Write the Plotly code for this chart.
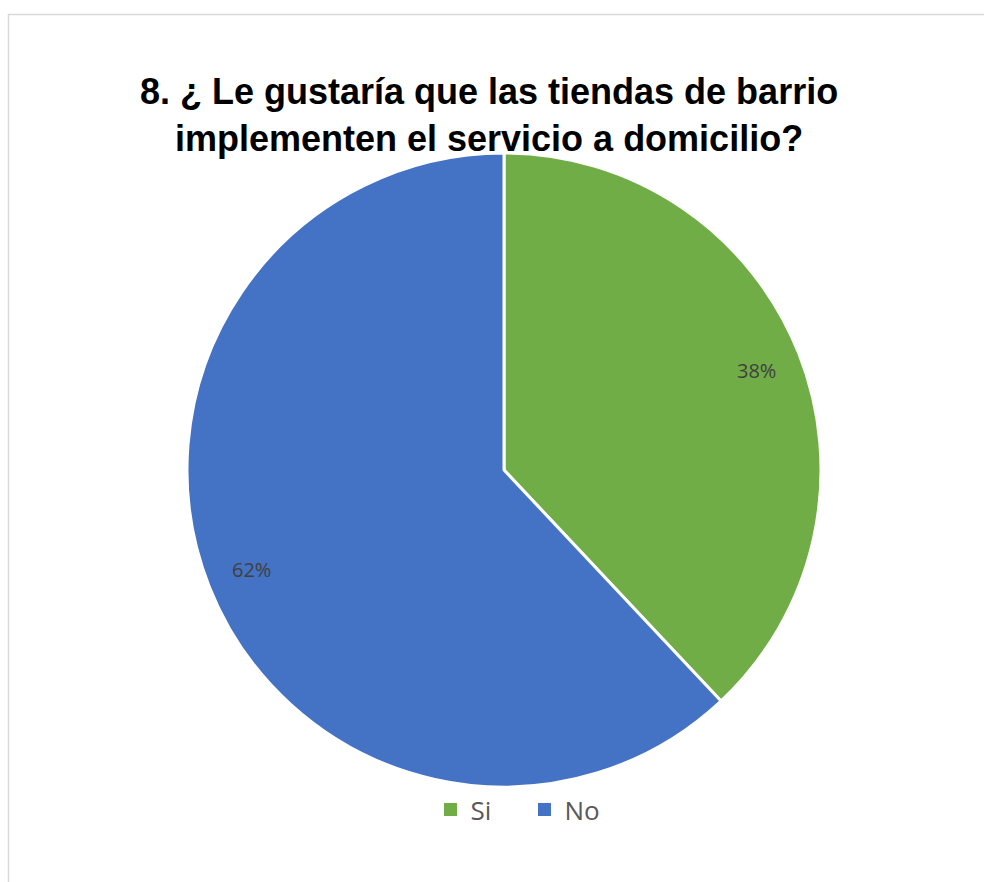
import math
import plotly.graph_objects as go

labels = ["Si", "No"]
values = [38, 62]
colors = ["#70AD47", "#4472C4"]
title_text = "8. ¿ Le gustaría que las tiendas de barrio<br>implementen el servicio a domicilio?"

W, H = 984, 882
cx, cy, r = 504, 470, 317
label_frac = 0.855

fig = go.Figure(go.Pie(
    labels=labels, values=values, sort=False, direction="clockwise", rotation=0,
    marker=dict(colors=colors, line=dict(color="white", width=3)),
    textinfo="none", showlegend=False,
    domain=dict(x=[(cx - r) / W, (cx + r) / W], y=[1 - (cy + r) / H, 1 - (cy - r) / H]),
    hoverinfo="label+percent",
))

# legend entries with square markers
for lab, col in zip(labels, colors):
    fig.add_trace(go.Scatter(x=[None], y=[None], mode="markers", name=lab,
                             marker=dict(symbol="square", size=13, color=col),
                             showlegend=True, hoverinfo="skip"))

# percentage labels placed along each slice's mid angle
total = sum(values)
cum = 0
annotations = []
for v in values:
    mid = (cum + v / 2) / total * 2 * math.pi
    cum += v
    px = cx + label_frac * r * math.sin(mid)
    py = cy - label_frac * r * math.cos(mid)
    annotations.append(dict(x=px / W, y=1 - py / H, xref="paper", yref="paper",
                            xanchor="center", yanchor="middle",
                            text=f"{round(v / total * 100)}%", showarrow=False,
                            font=dict(family="Open Sans, sans-serif", size=20, color="#404040")))

fig.update_layout(
    width=W, height=H,
    margin=dict(l=0, r=0, t=0, b=0),
    paper_bgcolor="white", plot_bgcolor="white",
    xaxis=dict(visible=False), yaxis=dict(visible=False),
    title=dict(text=title_text, x=0.497, xanchor="center", y=1 - 104 / H, yanchor="top",
               font=dict(family="Liberation Sans, Arial, sans-serif", size=36, color="black", weight="bold")),
    showlegend=True,
    legend=dict(orientation="h", x=0.533, xanchor="center", y=1 - 786 / H, yanchor="top",
                font=dict(family="Open Sans, sans-serif", size=26, color="#595959"),
                entrywidth=49, entrywidthmode="pixels", itemsizing="trace", traceorder="normal"),
    annotations=annotations,
    shapes=[dict(type="rect", xref="paper", yref="paper", x0=8.5 / W, x1=1.05, y0=-0.05, y1=1 - 14.5 / H,
                 line=dict(color="#D9D9D9", width=1.5), fillcolor="rgba(0,0,0,0)", layer="below")],
)

fig.write_html("out.html")
